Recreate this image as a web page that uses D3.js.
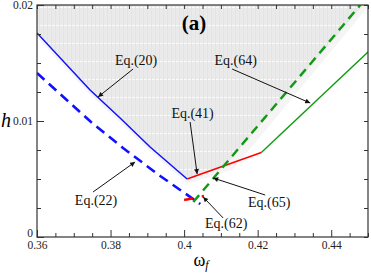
<!DOCTYPE html>
<html><head><meta charset="utf-8">
<script src="https://cdn.jsdelivr.net/npm/d3@7"></script>
<style>body{margin:0;background:#fff}svg{display:block}
svg text{font-family:"Liberation Serif","Times New Roman","DejaVu Serif",serif;}</style>
</head><body>
<script>
// ---- data (omega_f, h) ----
const blueSolid  = [[0.36,0.01759],[0.37442,0.01267],[0.38259,0.01026],[0.39075,0.00776],[0.40082,0.00500]]; // Eq.(20)
const blueDashed = [[0.36,0.01414],[0.3747,0.00991],[0.3834,0.00767],[0.3935,0.00526],[0.4044,0.00284]];     // Eq.(22)
const redSolid   = [[0.40082,0.00500],[0.4210,0.00728]];   // Eq.(41)
const greenSolid = [[0.4210,0.00728],[0.45,0.01595]];      // Eq.(64)
const greenDashed= [[0.4025,0.00302],[0.4479,0.0200]];     // Eq.(65)
const redDashed  = [[0.4000,0.00319],[0.4054,0.00353]];    // Eq.(62)
const xMajor = [0.36,0.38,0.40,0.42,0.44];
const xLabels = ["0.36","0.38","0.4","0.42","0.44"];
const yMajor = [0,0.01,0.02];
const yLabels = ["0","0.01","0.02"];
const notes = [
  {text:"Eq.(20)", tx:0.38694, ty:0.01483, from:[0.38612,0.01448], to:[0.37660,0.01207]},
  {text:"Eq.(64)", tx:0.41401, ty:0.01483, from:[0.41306,0.01448], to:[0.43429,0.01155]},
  {text:"Eq.(41)", tx:0.40231, ty:0.01026, from:[0.40163,0.00991], to:[0.40354,0.00543]},
  {text:"Eq.(22)", tx:0.37605, ty:0.00276, from:[0.37524,0.00388], to:[0.38667,0.00647]},
  {text:"Eq.(62)", tx:0.41143, ty:0.00078, from:[0.41061,0.00164], to:[0.40517,0.00345]},
  {text:"Eq.(65)", tx:0.42313, ty:0.00259, from:[0.42204,0.00362], to:[0.40789,0.00509]}
];

const W=371,H=273, L=37, R=368, T=5, B=237;
const svg=d3.select("body").append("svg").attr("width",W).attr("height",H);
const x=d3.scaleLinear().domain([0.36,0.45]).range([L,R]);
const y=d3.scaleLinear().domain([0,0.02]).range([B,T]);
const line=d3.line().x(d=>x(d[0])).y(d=>y(d[1]));

const defs=svg.append("defs");
const pat=defs.append("pattern").attr("id","tex").attr("patternUnits","userSpaceOnUse")
  .attr("width",4).attr("height",18);
pat.append("rect").attr("width",4).attr("height",18).attr("fill","#eaeaea");
pat.append("rect").attr("y",7).attr("width",4).attr("height",1).attr("fill","#fbfbfb");
pat.append("rect").attr("x",3).attr("width",1).attr("height",18).attr("fill","#e4e4e4");
defs.append("clipPath").attr("id","pc").append("rect").attr("x",L).attr("y",T).attr("width",R-L).attr("height",B-T);

function lineAt(seg,xv){const[a,b]=seg;return a[1]+(b[1]-a[1])*(xv-a[0])/(b[0]-a[0]);}
function xAtH(seg,hv){const[a,b]=seg;return a[0]+(b[0]-a[0])*(hv-a[1])/(b[1]-a[1]);}
let lo=redSolid[0][0],hi=redSolid[1][0];
for(let i=0;i<60;i++){const m=(lo+hi)/2; if(lineAt(greenDashed,m)<lineAt(redSolid,m)) lo=m; else hi=m;}
const xc=(lo+hi)/2, hc=lineAt(redSolid,xc);
const topX=xAtH(greenDashed,0.02);

const g=svg.append("g").attr("clip-path","url(#pc)");
const halo=[[0.36,0.02],[topX+0.0025,0.02],[xc+0.0025,hc-0.0003],[redSolid[0][0],redSolid[0][1]-0.0004]]
  .concat(blueSolid.slice().reverse().map(d=>[d[0],d[1]-0.0004]));
g.append("path").attr("d",line(halo)+"Z").attr("fill","#f5f5f5");
const region=[[0.36,0.02],[topX+0.0008,0.02],[xc+0.0003,hc],[redSolid[0][0],redSolid[0][1]]]
  .concat(blueSolid.slice().reverse());
g.append("path").attr("d",line(region)+"Z").attr("fill","url(#tex)");

g.append("path").attr("d",line(blueSolid)).attr("fill","none").attr("stroke","#1010ff").attr("stroke-width",1.5);
g.append("path").attr("d",line(blueDashed)).attr("fill","none").attr("stroke","#1010ff").attr("stroke-width",2.6).attr("stroke-dasharray","10,6");
g.append("path").attr("d",line(redSolid)).attr("fill","none").attr("stroke","#ff0000").attr("stroke-width",1.6);
g.append("path").attr("d",line(greenSolid)).attr("fill","none").attr("stroke","#109a10").attr("stroke-width",1.4);
g.append("path").attr("d",line(greenDashed)).attr("fill","none").attr("stroke","#109a10").attr("stroke-width",2.4).attr("stroke-dasharray","9,6");
g.append("path").attr("d",line(redDashed)).attr("fill","none").attr("stroke","#ff0000").attr("stroke-width",2.4).attr("stroke-dasharray","9,9");

const ax="#333";
const xMinor=d3.range(0.365,0.45,0.005).filter(v=>!xMajor.some(m=>Math.abs(m-v)<1e-6));
const yMinor=d3.range(0.0025,0.02,0.0025).filter(v=>!yMajor.some(m=>Math.abs(m-v)<1e-6));
function plain(a){a.attr("font-family",null).attr("font-size",null);a.select(".domain").remove();a.selectAll("line").attr("stroke",ax);}
svg.append("g").attr("transform",`translate(0,${B})`).call(d3.axisBottom(x).tickValues(xMajor).tickSize(-7).tickFormat((d,i)=>xLabels[i]))
 .call(a=>{plain(a);a.selectAll("text").attr("dy",null).attr("y",12).style("font-size","11.5px").attr("fill","#222");});
svg.append("g").attr("transform",`translate(0,${B})`).call(d3.axisBottom(x).tickValues(xMinor).tickSize(-4).tickFormat("")).call(plain);
svg.append("g").attr("transform",`translate(0,${T})`).call(d3.axisTop(x).tickValues(xMajor.concat(xMinor)).tickSize(-4).tickFormat("")).call(plain);
svg.append("g").attr("transform",`translate(${L},0)`).call(d3.axisLeft(y).tickValues(yMajor).tickSize(-7).tickFormat((d,i)=>yLabels[i]))
 .call(a=>{plain(a);
   a.selectAll("text").attr("x",-4).style("font-size","11.5px").attr("fill","#222")
    .attr("dy",(d)=>d===0?"-0.05em":"0.32em");});
svg.append("g").attr("transform",`translate(${L},0)`).call(d3.axisLeft(y).tickValues(yMinor).tickSize(-4).tickFormat("")).call(plain);
svg.append("g").attr("transform",`translate(${R},0)`).call(d3.axisRight(y).tickValues(yMajor.concat(yMinor)).tickSize(-4).tickFormat("")).call(plain);
svg.append("rect").attr("x",L).attr("y",T).attr("width",R-L).attr("height",B-T).attr("fill","none").attr("stroke",ax).attr("stroke-width",1.2);

defs.append("marker").attr("id","arr").attr("viewBox","0 0 10 10").attr("refX",10).attr("refY",5)
  .attr("markerWidth",7).attr("markerHeight",5).attr("orient","auto").attr("markerUnits","userSpaceOnUse")
  .append("path").attr("d","M0,0L10,5L0,10Z").attr("fill","#111");
notes.forEach(n=>{
  svg.append("line").attr("x1",x(n.from[0])).attr("y1",y(n.from[1])).attr("x2",x(n.to[0])).attr("y2",y(n.to[1]))
    .attr("stroke","#111").attr("stroke-width",1).attr("marker-end","url(#arr)");
  svg.append("text").attr("x",x(n.tx)).attr("y",y(n.ty)).attr("text-anchor","middle")
    .style("font-size","14px").attr("fill","#111").text(n.text);
});
svg.append("text").attr("x",194).attr("y",30).attr("text-anchor","middle")
  .style("font-weight","bold").style("font-size","21px").text("(a)");
svg.append("text").attr("x",6).attr("y",127).attr("text-anchor","middle")
  .style("font-style","italic").style("font-size","20px").text("h");
const xl=svg.append("text").attr("x",201).attr("y",266).attr("text-anchor","middle").style("font-size","18px");
xl.append("tspan").text("ω");
xl.append("tspan").style("font-style","italic").style("font-size","12px").attr("dy",3).text("f");
</script>
</body></html>
